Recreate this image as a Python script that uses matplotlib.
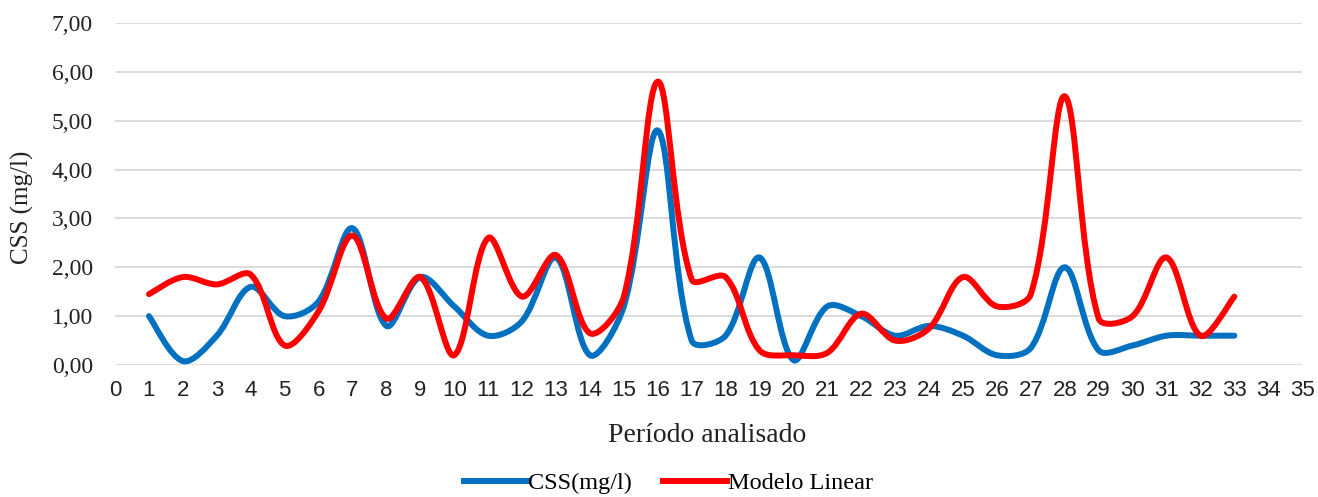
#Libraries
import numpy as np
import matplotlib
matplotlib.use('Agg')
import matplotlib.pyplot as plt
from matplotlib.path import Path
from matplotlib.patches import PathPatch
from matplotlib.lines import Line2D
from matplotlib.ticker import FuncFormatter

#Data
periodo = list(range(1, 34))
css = [1.00, 0.08, 0.60, 1.60, 1.00, 1.30, 2.80, 0.80, 1.80, 1.20,
       0.60, 0.90, 2.20, 0.20, 1.20, 4.80, 0.50, 0.60, 2.20, 0.10,
       1.20, 1.00, 0.60, 0.80, 0.60, 0.20, 0.35, 2.00, 0.30, 0.40,
       0.60, 0.60, 0.60]
modelo = [1.45, 1.80, 1.65, 1.85, 0.40, 1.10, 2.65, 0.95, 1.80, 0.20,
          2.60, 1.40, 2.25, 0.65, 1.40, 5.80, 1.75, 1.80, 0.30, 0.20,
          0.25, 1.05, 0.50, 0.75, 1.80, 1.20, 1.45, 5.50, 0.95, 1.00,
          2.20, 0.60, 1.40]
series_names = ['CSS(mg/l)', 'Modelo Linear']
colors = ['#0070C0', '#FF0000']

serif = ['Liberation Serif', 'DejaVu Serif']
sans = ['Liberation Sans', 'DejaVu Sans']

#Smoothed line like a spreadsheet chart (cubic Bezier, chord weighted in screen space)
def smooth_path(ax, x, y):
    p = ax.transData.transform(np.column_stack([x, y]).astype(float))
    n = len(p)
    tan = []
    for i in range(n):
        prev = p[max(i - 1, 0)]
        nxt = p[min(i + 1, n - 1)]
        tan.append(nxt - prev)
    verts = [p[0]]
    codes = [Path.MOVETO]
    for i in range(n - 1):
        L = np.linalg.norm(p[i + 1] - p[i])
        Lp = np.linalg.norm(p[i] - p[i - 1]) if i > 0 else L
        Ln = np.linalg.norm(p[i + 2] - p[i + 1]) if i + 2 < n else L
        c1 = p[i] + tan[i] * L / (Lp + L) / 3.0
        c2 = p[i + 1] - tan[i + 1] * L / (L + Ln) / 3.0
        verts += [c1, c2, p[i + 1]]
        codes += [Path.CURVE4] * 3
    verts = ax.transData.inverted().transform(np.array(verts))
    return Path(verts, codes)

fig = plt.figure(figsize=(13.18, 4.97), dpi=100)
ax = fig.add_axes([0.0873, 0.2656, 0.9007, 0.6881])
ax.set_xlim(0, 35)
ax.set_ylim(0, 7)

lw = 4.3
for vals, c in zip([css, modelo], colors):
    patch = PathPatch(smooth_path(ax, periodo, vals), fill=False, edgecolor=c,
                      lw=lw, capstyle='round', joinstyle='round')
    ax.add_patch(patch)

ax.set_xticks(range(0, 36))
ax.set_yticks(np.arange(0, 7.01, 1))
ax.yaxis.set_major_formatter(FuncFormatter(lambda v, pos: f'{v:.2f}'.replace('.', ',')))
ax.grid(axis='y', color='#d9d9d9', lw=1.3)
ax.set_axisbelow(True)
for s in ax.spines.values():
    s.set_visible(False)
ax.tick_params(length=0)
ax.tick_params(axis='x', pad=11)
ax.tick_params(axis='y', pad=16)
for t in ax.get_xticklabels():
    t.set_fontfamily(sans)
    t.set_fontsize(16)
    t.set_color('#222222')
for t in ax.get_yticklabels():
    t.set_fontfamily(serif)
    t.set_fontsize(17)
    t.set_color('#222222')

ax.set_xlabel('Período analisado', fontfamily=serif, fontsize=20, color='#222222')
ax.xaxis.set_label_coords(0.499, -0.17)
ax.set_ylabel('CSS (mg/l)', fontfamily=serif, fontsize=18, color='#222222')
ax.yaxis.set_label_coords(-0.068, 0.46)

handles = [Line2D([], [], color=c, lw=lw) for c in colors]
fig.legend(handles, series_names, loc='center', bbox_to_anchor=(0.507, 0.028),
           ncol=2, frameon=False, prop={'family': serif, 'size': 17.5},
           handlelength=2.6, handletextpad=0.05, columnspacing=1.3)

fig.savefig('out.png', dpi=100)
